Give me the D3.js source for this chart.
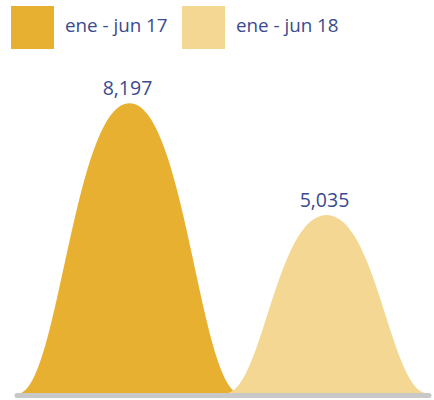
<!DOCTYPE html>
<html><head><meta charset="utf-8">
<script src="https://cdn.jsdelivr.net/npm/d3@7"></script>
<style>html,body{margin:0;padding:0;background:#fff;}</style>
</head><body>
<svg id="c" width="434" height="400"></svg>
<script>
const categories = ["ene - jun 17", "ene - jun 18"];
const values = [8197, 5035];
const colors = ["#E8B031", "#F4D792"];

const svg = d3.select("#c");
const font = "'Open Sans', 'Noto Sans', sans-serif";
const textColor = "#3A4A8E";

const x = d3.scaleBand().domain(categories).range([31, 425]).padding(0);
const y = d3.scaleLinear().domain([0, 9000]).range([393, 75]);
const fmt = d3.format(",");

// legend
const lg = svg.append("g");
const lx = [11, 182];
categories.forEach((c, i) => {
  lg.append("rect").attr("x", lx[i]).attr("y", 6).attr("width", 43).attr("height", 43).attr("fill", colors[i]);
  lg.append("text").attr("x", lx[i] + 54).attr("y", 32).attr("font-family", font).attr("font-size", 18.8)
    .attr("fill", textColor).text(c);
});

// bell-shaped columns
function curvePath(cx, hw, top, base) {
  const h = base - top;
  const l = cx - hw, r = cx + hw;
  const p = d3.path();
  p.moveTo(l, base);
  p.bezierCurveTo(l + 0.35 * hw, base - 0.05 * h, l + 0.5 * hw, top, cx, top);
  p.bezierCurveTo(r - 0.5 * hw, top, r - 0.35 * hw, base - 0.05 * h, r, base);
  p.closePath();
  return p.toString();
}
const halfW = d => 82 + 0.09 * (y(0) - y(d));
svg.append("g").selectAll("path").data(values).join("path")
  .attr("d", (d, i) => curvePath(x(categories[i]) + x.bandwidth() / 2, halfW(d), y(d), y(0)))
  .attr("fill", (d, i) => colors[i]);

// value labels
svg.append("g").selectAll("text").data(values).join("text")
  .attr("x", (d, i) => x(categories[i]) + x.bandwidth() / 2 - 2)
  .attr("y", d => y(d) - 8)
  .attr("text-anchor", "middle").attr("font-family", font).attr("font-size", 19.5)
  .attr("fill", textColor).text(d => fmt(d));

// baseline
svg.append("line").attr("x1", 17).attr("x2", 429).attr("y1", y(0) + 2.5).attr("y2", y(0) + 2.5)
  .attr("stroke", "#C8C8C8").attr("stroke-width", 5).attr("stroke-linecap", "round");
</script>
</body></html>
